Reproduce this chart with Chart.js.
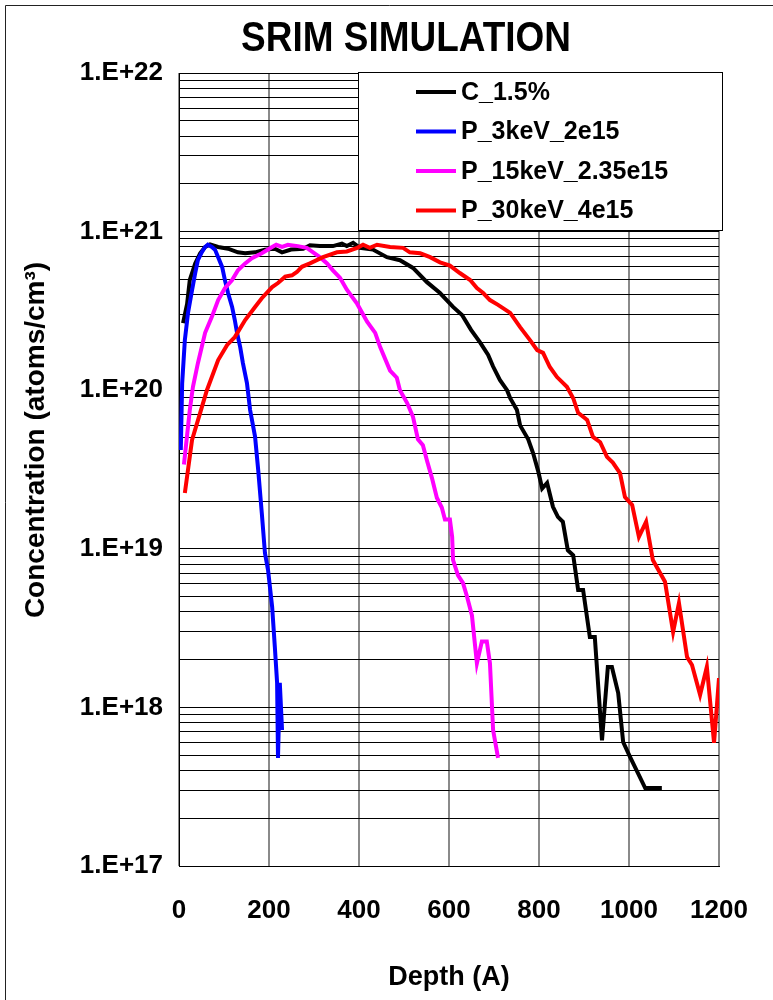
<!DOCTYPE html>
<html>
<head>
<meta charset="utf-8">
<script src="https://cdn.jsdelivr.net/npm/chart.js@4.4.1/dist/chart.umd.min.js"></script>
<style>
  html, body { margin: 0; padding: 0; background: #fff; }
  canvas { display: block; }
</style>
</head>
<body>
<canvas id="srimChart" width="773" height="1000"></canvas>
<script>
// SRIM depth profiles, depth in Angstrom, concentration in atoms/cm3
const seriesNames = ['C_1.5%', 'P_3keV_2e15', 'P_15keV_2.35e15', 'P_30keV_4e15'];
const seriesColors = ['#000000', '#0000ff', '#ff00ff', '#ff0000'];

const cDepth = [9, 18, 24, 36, 47, 58, 69, 87, 109, 131, 147, 169, 191, 213, 229, 249, 276, 291, 313, 342,
  362, 373, 387, 402, 431, 462, 491, 520, 551, 580, 609, 629, 649, 669, 687, 698, 713, 729, 736, 751,
  758, 776, 787, 798, 807, 818, 831, 842, 853, 864, 876, 887, 898, 913, 924, 940, 953, 962, 976, 987,
  1002, 1036, 1073];
const cConc = [2.65e20, 3.5e20, 4.95e20, 6.3e20, 7.3e20, 8.0e20, 8.3e20, 8.0e20, 7.8e20, 7.4e20, 7.3e20, 7.4e20, 7.7e20, 7.8e20, 7.4e20, 7.7e20, 7.8e20, 8.2e20, 8.1e20, 8.1e20,
  8.4e20, 8.1e20, 8.5e20, 7.9e20, 7.7e20, 6.9e20, 6.6e20, 5.9e20, 4.8e20, 4.1e20, 3.35e20, 2.98e20, 2.4e20, 2.0e20, 1.67e20, 1.41e20, 1.16e20, 1.0e20, 8.9e19, 7.5e19,
  6.0e19, 4.9e19, 4.0e19, 3.1e19, 2.4e19, 2.6e19, 1.84e19, 1.59e19, 1.48e19, 9.8e18, 9.1e18, 5.5e18, 5.5e18, 2.78e18, 2.78e18, 6.2e17, 1.8e18, 1.8e18, 1.23e18, 6.05e17,
  4.9e17, 3.1e17, 3.1e17];

const p3Depth = [4, 7, 13, 20, 29, 36, 42, 51, 58, 64, 73, 80, 87, 96, 102, 109, 118, 124, 129, 136,
  142, 151, 158, 169, 176, 184, 191, 198, 207, 213, 218, 220, 224, 229];
const p3Conc = [4.2e19, 1.1e20, 2.07e20, 3.07e20, 4.28e20, 5.48e20, 6.62e20, 7.44e20, 8.0e20, 8.26e20, 8.0e20, 7.7e20, 6.9e20, 5.97e20, 4.95e20, 4.1e20, 3.35e20, 2.77e20, 2.3e20, 1.87e20,
  1.48e20, 1.11e20, 7.5e19, 5.1e19, 3.14e19, 1.68e19, 9.4e18, 7.3e18, 4.3e18, 2.4e18, 1.43e18, 4.8e17, 1.43e18, 7.2e17];

const p15Depth = [11, 24, 31, 42, 58, 73, 87, 102, 118, 131, 147, 162, 184, 207, 216, 229, 242, 264, 284, 298,
  313, 329, 342, 358, 373, 396, 418, 436, 447, 469, 484, 491, 507, 520, 531, 542, 551, 562, 573, 584,
  591, 602, 607, 609, 620, 631, 640, 651, 662, 673, 684, 691, 698, 709];
const p15Conc = [3.4e19, 7.5e19, 1.05e20, 1.48e20, 2.3e20, 2.9e20, 3.7e20, 4.4e20, 4.95e20, 5.7e20, 6.3e20, 6.8e20, 7.3e20, 8.0e20, 8.26e20, 8.0e20, 8.26e20, 8.1e20, 7.9e20, 7.4e20,
  6.9e20, 6.3e20, 5.7e20, 5.1e20, 4.3e20, 3.5e20, 2.7e20, 2.3e20, 1.87e20, 1.33e20, 1.2e20, 1.0e20, 8.3e19, 6.8e19, 4.9e19, 4.5e19, 3.6e19, 2.8e19, 2.1e19, 1.82e19,
  1.53e19, 1.53e19, 1.19e19, 8.5e18, 6.8e18, 6.1e18, 5.0e18, 3.8e18, 1.9e18, 2.6e18, 2.6e18, 1.9e18, 7.2e17, 4.8e17];

const p30Depth = [13, 29, 47, 62, 87, 107, 124, 147, 169, 184, 207, 220, 236, 251, 262, 273, 291, 320, 351, 373,
  396, 409, 424, 440, 469, 498, 513, 536, 558, 580, 602, 624, 647, 662, 676, 691, 709, 736, 758, 780,
  796, 809, 824, 840, 862, 876, 887, 907, 920, 936, 951, 964, 980, 991, 1007, 1022, 1038, 1053, 1080, 1098,
  1111, 1129, 1140, 1158, 1173, 1189, 1200];
const p30Conc = [2.25e19, 4.85e19, 7.2e19, 1.0e20, 1.55e20, 1.93e20, 2.16e20, 2.77e20, 3.35e20, 3.8e20, 4.47e20, 4.74e20, 5.2e20, 5.3e20, 5.56e20, 6.0e20, 6.3e20, 6.9e20, 7.4e20, 7.5e20,
  7.9e20, 8.26e20, 7.9e20, 8.26e20, 8.0e20, 7.9e20, 7.4e20, 7.3e20, 6.9e20, 6.4e20, 6.1e20, 5.48e20, 4.95e20, 4.4e20, 4.1e20, 3.7e20, 3.45e20, 3.07e20, 2.5e20, 2.07e20,
  1.79e20, 1.72e20, 1.4e20, 1.21e20, 1.05e20, 8.9e19, 7.2e19, 6.5e19, 5.07e19, 4.7e19, 3.8e19, 3.5e19, 3.0e19, 2.12e19, 1.89e19, 1.19e19, 1.48e19, 8.5e18, 6.2e18, 2.99e18,
  4.55e18, 2.08e18, 1.85e18, 1.2e18, 1.8e18, 5.97e17, 1.53e18];

const xTicks = [0, 200, 400, 600, 800, 1000, 1200];
const yDecades = [1e17, 1e18, 1e19, 1e20, 1e21, 1e22];
const yTickLabels = ['1.E+17', '1.E+18', '1.E+19', '1.E+20', '1.E+21', '1.E+22'];

const FONT = '"Liberation Sans", Arial, Helvetica, sans-serif';
Chart.defaults.font.family = FONT;
Chart.defaults.color = '#000';

const depths = [cDepth, p3Depth, p15Depth, p30Depth];
const concs = [cConc, p3Conc, p15Conc, p30Conc];

const datasets = seriesNames.map((name, i) => ({
  label: name,
  data: depths[i].map((d, j) => ({ x: d, y: concs[i][j] })),
  borderColor: seriesColors[i],
  backgroundColor: seriesColors[i],
  borderWidth: 4,
  pointRadius: 0,
  tension: 0,
  fill: false,
  order: seriesNames.length - 1 - i   // later series painted on top
}));

// white page plus the thin frame on the top and left edges
const pagePlugin = {
  id: 'page',
  beforeDraw(chart) {
    const ctx = chart.ctx;
    ctx.save();
    ctx.fillStyle = '#fff';
    ctx.fillRect(0, 0, chart.width, chart.height);
    ctx.restore();
  },
  afterDraw(chart) {
    const ctx = chart.ctx;
    ctx.save();
    ctx.strokeStyle = '#222';
    ctx.lineWidth = 1;
    ctx.beginPath();
    ctx.moveTo(5.5, chart.height);
    ctx.lineTo(5.5, 5.5);
    ctx.lineTo(chart.width, 5.5);
    ctx.stroke();
    ctx.restore();
  }
};

// heading (slightly narrowed bold face) and the rotated y caption
const captionPlugin = {
  id: 'captions',
  afterDraw(chart) {
    const ctx = chart.ctx;
    ctx.save();
    ctx.fillStyle = '#000';
    ctx.textAlign = 'center';
    ctx.textBaseline = 'middle';
    ctx.save();
    ctx.translate(406, 39);
    ctx.scale(0.88, 1);
    ctx.font = 'bold 42px ' + FONT;
    ctx.fillText('SRIM SIMULATION', 0, 0);
    ctx.restore();
    ctx.translate(36, 440);
    ctx.rotate(-Math.PI / 2);
    ctx.font = 'bold 28px ' + FONT;
    ctx.fillText('Concentration (atoms/cm\u00b3)', 0, 0);
    ctx.restore();
  }
};

// boxed legend sitting in the upper right of the plot
const boxLegendPlugin = {
  id: 'boxLegend',
  afterDatasetsDraw(chart) {
    const ctx = chart.ctx;
    const area = chart.chartArea;
    const left = area.left + 179, top = area.top - 1;
    const right = area.right + 3, bottom = area.top + 157;
    ctx.save();
    ctx.fillStyle = '#fff';
    ctx.fillRect(left, top, right - left, bottom - top);
    ctx.strokeStyle = '#000';
    ctx.lineWidth = 1;
    ctx.strokeRect(left + 0.5, top + 0.5, right - left, bottom - top);
    ctx.font = 'bold 25px ' + FONT;
    ctx.textBaseline = 'middle';
    ctx.textAlign = 'left';
    chart.data.datasets.forEach((ds, i) => {
      const y = top + 20 + i * 39.5;
      ctx.strokeStyle = ds.borderColor;
      ctx.lineWidth = 4;
      ctx.beginPath();
      ctx.moveTo(left + 58, y);
      ctx.lineTo(left + 98, y);
      ctx.stroke();
      ctx.fillStyle = '#000';
      ctx.fillText(ds.label, left + 103, y + 1);
    });
    ctx.restore();
  }
};

new Chart(document.getElementById('srimChart'), {
  type: 'line',
  data: { datasets },
  options: {
    responsive: false,
    animation: false,
    devicePixelRatio: 1,
    layout: { padding: { left: 0, right: 54, top: 73, bottom: 0 } },
    plugins: {
      legend: { display: false },
      tooltip: { enabled: false }
    },
    scales: {
      x: {
        type: 'linear',
        min: 0,
        max: 1200,
        afterBuildTicks: (scale) => { scale.ticks = xTicks.map(v => ({ value: v })); },
        afterFit: (scale) => {
          scale.height = 134;
          scale.paddingLeft = 0;
          scale.paddingRight = 0;
        },
        ticks: {
          font: { size: 26, weight: 'bold' },
          padding: 29,
          maxRotation: 0,
          callback: (value) => String(value)
        },
        grid: { color: '#8a8a8a', lineWidth: 2, drawTicks: false },
        border: { display: true, color: '#000', width: 1 },
        title: {
          display: true,
          text: 'Depth (A)',
          font: { size: 27, weight: 'bold' },
          padding: { top: 0, bottom: 6 }
        }
      },
      y: {
        type: 'logarithmic',
        min: yDecades[0],
        max: yDecades[yDecades.length - 1],
        afterBuildTicks: (scale) => {
          const vals = [];
          for (let k = 0; k < yDecades.length - 1; k++) {
            for (let m = 1; m <= 9; m++) vals.push(m * yDecades[k]);
          }
          vals.push(yDecades[yDecades.length - 1]);
          scale.ticks = vals.map(v => ({ value: v }));
        },
        afterFit: (scale) => {
          scale.width = 179;
          scale.paddingTop = 0;
          scale.paddingBottom = 0;
        },
        ticks: {
          autoSkip: false,
          padding: 16,
          font: { size: 26, weight: 'bold' },
          callback: (value) => {
            const e = Math.log10(value);
            if (Math.abs(e - Math.round(e)) < 1e-6) return yTickLabels[Math.round(e) - 17];
            return '';
          }
        },
        grid: { color: '#000', lineWidth: 1, drawTicks: false },
        border: { display: true, color: '#000', width: 1 }
      }
    }
  },
  plugins: [pagePlugin, captionPlugin, boxLegendPlugin]
});
</script>
</body>
</html>
